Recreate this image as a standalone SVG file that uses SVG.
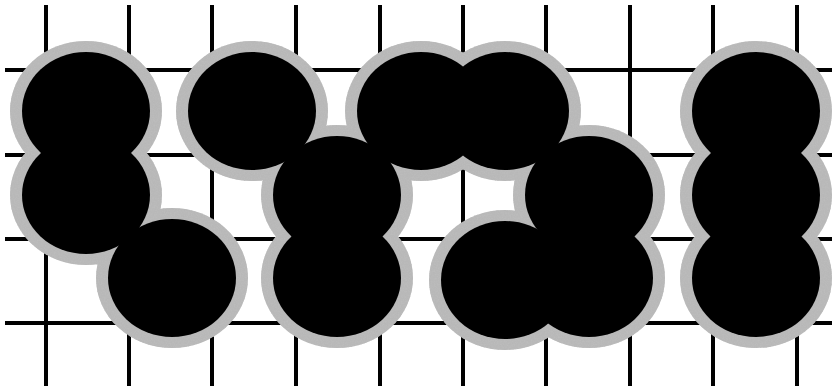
<svg xmlns="http://www.w3.org/2000/svg" width="832" height="389" viewBox="0 0 832 389">
<defs>
<filter id="speckle" x="0" y="0" width="100%" height="100%">
<feTurbulence type="fractalNoise" baseFrequency="0.7" numOctaves="2" seed="3" result="n"/>
<feColorMatrix in="n" type="matrix" values="0 0 0 0 0.5  0 0 0 0 0.5  0 0 0 0 0.5  0 0 0 2.5 -0.9" result="g"/>
<feComposite in="g" in2="SourceGraphic" operator="in" result="gi"/>
<feMerge><feMergeNode in="SourceGraphic"/><feMergeNode in="gi"/></feMerge>
</filter>
</defs>
<style>
.grid line{stroke:#000;stroke-width:4}
.halo{fill:#b8b8b8}
.stone{fill:#000}
</style>
<rect width="832" height="389" fill="#fff"/>
<g class="grid" id="connectors">
<line x1="5" y1="70" x2="832" y2="70"/>
<line x1="5" y1="155" x2="832" y2="155"/>
<line x1="5" y1="239" x2="832" y2="239"/>
<line x1="5" y1="323" x2="832" y2="323"/>
<line x1="46" y1="5" x2="46" y2="386"/>
<line x1="129" y1="5" x2="129" y2="386"/>
<line x1="212" y1="5" x2="212" y2="386"/>
<line x1="296" y1="5" x2="296" y2="386"/>
<line x1="380" y1="5" x2="380" y2="386"/>
<line x1="463" y1="5" x2="463" y2="386"/>
<line x1="546" y1="5" x2="546" y2="386"/>
<line x1="630" y1="5" x2="630" y2="386"/>
<line x1="713" y1="5" x2="713" y2="386"/>
<line x1="797" y1="5" x2="797" y2="386"/>
</g>
<g id="halos" filter="url(#speckle)">
<ellipse class="halo" cx="86" cy="111" rx="76" ry="70"/>
<ellipse class="halo" cx="86" cy="195" rx="76" ry="70"/>
<ellipse class="halo" cx="172" cy="278" rx="76" ry="70"/>
<ellipse class="halo" cx="252" cy="111" rx="76" ry="70"/>
<ellipse class="halo" cx="337" cy="195" rx="76" ry="70"/>
<ellipse class="halo" cx="337" cy="278" rx="76" ry="70"/>
<ellipse class="halo" cx="421" cy="111" rx="76" ry="70"/>
<ellipse class="halo" cx="505" cy="111" rx="76" ry="70"/>
<ellipse class="halo" cx="589" cy="195" rx="76" ry="70"/>
<ellipse class="halo" cx="589" cy="278" rx="76" ry="70"/>
<ellipse class="halo" cx="505" cy="280" rx="76" ry="70"/>
<ellipse class="halo" cx="756" cy="111" rx="76" ry="70"/>
<ellipse class="halo" cx="756" cy="195" rx="76" ry="70"/>
<ellipse class="halo" cx="756" cy="278" rx="76" ry="70"/>
</g>
<g id="group-a">
<ellipse id="stone-a1" class="stone" cx="86" cy="111" rx="64" ry="59"/>
<ellipse id="stone-a2" class="stone" cx="86" cy="195" rx="64" ry="59"/>
<ellipse id="stone-a3" class="stone" cx="172" cy="278" rx="64" ry="59"/>
</g>
<g id="group-b">
<ellipse id="stone-b1" class="stone" cx="252" cy="111" rx="64" ry="59"/>
</g>
<g id="group-c">
<ellipse id="stone-c1" class="stone" cx="337" cy="195" rx="64" ry="59"/>
<ellipse id="stone-c2" class="stone" cx="337" cy="278" rx="64" ry="59"/>
</g>
<g id="group-d">
<ellipse id="stone-d1" class="stone" cx="421" cy="111" rx="64" ry="59"/>
<ellipse id="stone-d2" class="stone" cx="505" cy="111" rx="64" ry="59"/>
</g>
<g id="group-e">
<ellipse id="stone-e1" class="stone" cx="589" cy="195" rx="64" ry="59"/>
<ellipse id="stone-e2" class="stone" cx="589" cy="278" rx="64" ry="59"/>
<ellipse id="stone-e3" class="stone" cx="505" cy="280" rx="64" ry="59"/>
</g>
<g id="group-f">
<ellipse id="stone-f1" class="stone" cx="756" cy="111" rx="64" ry="59"/>
<ellipse id="stone-f2" class="stone" cx="756" cy="195" rx="64" ry="59"/>
<ellipse id="stone-f3" class="stone" cx="756" cy="278" rx="64" ry="59"/>
</g>
</svg>
